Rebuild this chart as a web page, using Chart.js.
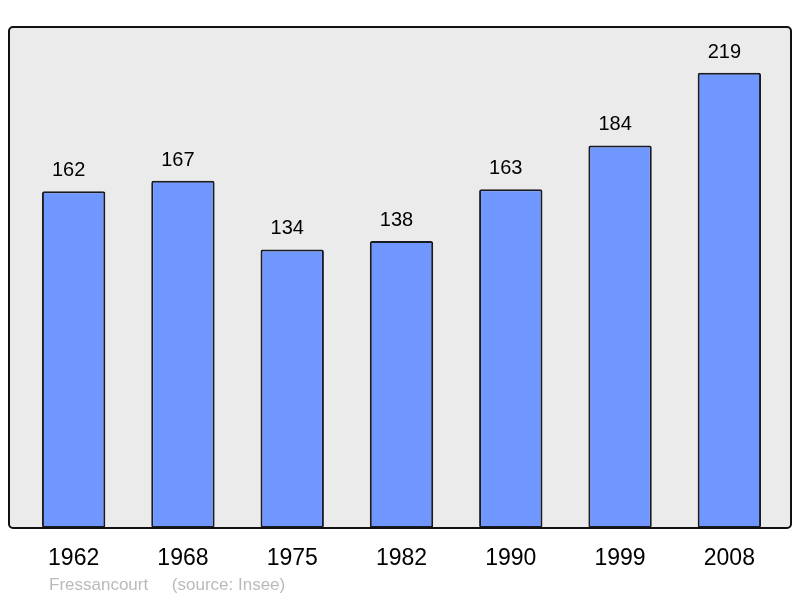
<!DOCTYPE html>
<html>
<head>
<meta charset="utf-8">
<script src="https://cdn.jsdelivr.net/npm/chart.js@4/dist/chart.umd.min.js"></script>
<style>
  html, body { margin: 0; padding: 0; background: #fff; }
  #chart { display: block; }
</style>
</head>
<body>
<canvas id="chart" width="800" height="598"></canvas>
<script>
const years = ['1962', '1968', '1975', '1982', '1990', '1999', '2008'];
const population = [162, 167, 134, 138, 163, 184, 219];
const yRange = [0, 241];
const footerText = 'Fressancourt     (source: Insee)';

const FONT = '"Liberation Sans", Arial, sans-serif';

// grey panel behind the bars, with its rounded black frame
const framePlugin = {
    id: 'frame',
    beforeDraw(chart) {
        const { ctx, chartArea: a } = chart;
        const x = a.left - 10, y = a.top, w = (a.right + 7) - x, h = a.bottom - a.top;
        ctx.save();
        ctx.beginPath();
        ctx.roundRect(x, y, w, h, 4);
        ctx.fillStyle = '#ebebeb';
        ctx.fill();
        ctx.restore();
    },
    afterDatasetsDraw(chart) {
        const { ctx, chartArea: a } = chart;
        const x = a.left - 10, y = a.top, w = (a.right + 7) - x, h = a.bottom - a.top;
        ctx.save();
        ctx.beginPath();
        ctx.roundRect(x, y, w, h, 4);
        ctx.lineWidth = 2;
        ctx.strokeStyle = '#111';
        ctx.stroke();
        ctx.restore();
    }
};

// numbers over each bar + footer caption
const labelPlugin = {
    id: 'valueLabels',
    afterDatasetsDraw(chart) {
        const { ctx } = chart;
        const meta = chart.getDatasetMeta(0);
        ctx.save();
        ctx.font = '20px ' + FONT;
        ctx.fillStyle = '#000';
        ctx.textAlign = 'center';
        ctx.textBaseline = 'alphabetic';
        meta.data.forEach((bar, i) => {
            ctx.fillText(String(population[i]), bar.x - 5, bar.y - 15);
        });
        ctx.font = '17px ' + FONT;
        ctx.fillStyle = '#bababa';
        ctx.textAlign = 'left';
        ctx.fillText(footerText, 49, 590);
        ctx.restore();
    }
};

new Chart(document.getElementById('chart'), {
    type: 'bar',
    data: {
        labels: years,
        datasets: [{
            data: population,
            backgroundColor: '#7096ff',
            borderColor: '#1a1a22',
            borderWidth: 2,
            borderRadius: 2,
            borderSkipped: false,
            barPercentage: 0.58,
            categoryPercentage: 1
        }]
    },
    options: {
        responsive: false,
        devicePixelRatio: 1,
        animation: false,
        layout: { padding: { left: 19, right: 16, top: 27, bottom: 0 } },
        plugins: { legend: { display: false }, tooltip: { enabled: false } },
        scales: {
            x: {
                grid: { display: false, drawTicks: false },
                border: { display: false },
                ticks: { color: '#000', font: { family: FONT, size: 23 }, padding: 17 },
                afterFit(scale) { scale.height = 70; }
            },
            y: {
                display: false,
                min: yRange[0],
                max: yRange[1]
            }
        }
    },
    plugins: [framePlugin, labelPlugin]
});
</script>
</body>
</html>
